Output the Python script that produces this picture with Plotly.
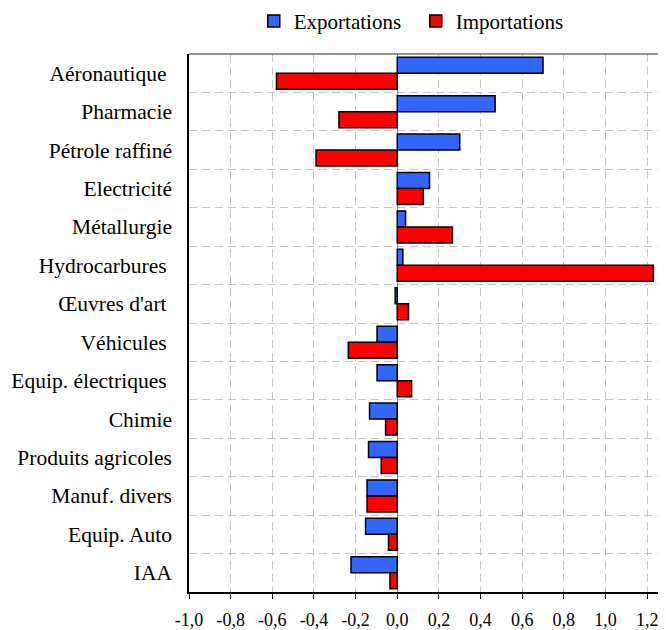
import plotly.graph_objects as go

categories = ["Aéronautique", "Pharmacie", "Pétrole raffiné", "Electricité", "Métallurgie",
              "Hydrocarbures", "Œuvres d'art", "Véhicules", "Equip. électriques", "Chimie",
              "Produits agricoles", "Manuf. divers", "Equip. Auto", "IAA"]
category_labels = ["Aéronautique\u00a0", "Pharmacie", "Pétrole raffiné", "Electricité", "Métallurgie",
                   "Hydrocarbures\u00a0", "Œuvres d'art\u00a0", "Véhicules\u00a0", "Equip. électriques\u00a0",
                   "Chimie", "Produits agricoles", "Manuf. divers", "Equip. Auto", "IAA"]
exportations = [0.70, 0.47, 0.30, 0.155, 0.04, 0.027, -0.01, -0.097, -0.097, -0.133,
                -0.138, -0.145, -0.152, -0.222]
importations = [-0.58, -0.28, -0.39, 0.125, 0.265, 1.23, 0.054, -0.235, 0.069, -0.056,
                -0.077, -0.145, -0.042, -0.035]
tick_vals = [-1.0, -0.8, -0.6, -0.4, -0.2, 0.0, 0.2, 0.4, 0.6, 0.8, 1.0, 1.2]
tick_text = ["-1,0", "-0,8", "-0,6", "-0,4", "-0,2", "0,0", "0,2", "0,4", "0,6", "0,8", "1,0", "1,2"]

font_family = "Liberation Serif, Times New Roman, Times, serif"

fig = go.Figure()
fig.add_trace(go.Bar(y=categories, x=exportations, orientation="h", name="Exportations",
                     marker=dict(color="#3366FF", line=dict(color="#000000", width=1.5))))
fig.add_trace(go.Bar(y=categories, x=importations, orientation="h", name="Importations",
                     marker=dict(color="#FF0000", line=dict(color="#000000", width=1.5))))

fig.update_layout(
    width=666, height=630,
    margin=dict(l=181, r=0, t=46, b=46, autoexpand=False),
    paper_bgcolor="white", plot_bgcolor="white",
    barmode="group", bargap=0.167, bargroupgap=0,
    font=dict(family=font_family, color="#000000"),
    legend=dict(orientation="h", x=0.369, xanchor="left", y=0.979, yanchor="middle",
                xref="container", yref="container",
                font=dict(size=21, family=font_family), itemwidth=30,
                entrywidth=117, entrywidthmode="pixels",
                traceorder="normal"),
    showlegend=True,
)

fig.update_xaxes(
    range=[-1.0, 1.329], tickvals=tick_vals, ticktext=tick_text, automargin=False,
    tickfont=dict(size=18, family=font_family),
    ticks="outside", ticklen=5, tickcolor="#000000", tickwidth=1,
    ticklabelstandoff=6,
    showline=True, linecolor="#000000", linewidth=1.5,
    showgrid=True, gridcolor="#c4c4c4", griddash="8px,5px", gridwidth=1,
    zeroline=True, zerolinecolor="#808080", zerolinewidth=1.2,
)
fig.update_yaxes(
    autorange="reversed", tickson="boundaries", automargin=False,
    tickvals=categories, ticktext=category_labels,
    tickfont=dict(size=21.5, family=font_family),
    ticks="", ticklabelstandoff=11,
    showline=True, linecolor="#000000", linewidth=1.5,
    showgrid=True, gridcolor="#c4c4c4", griddash="8px,5px", gridwidth=1,
)
fig.add_shape(type="line", xref="paper", yref="paper", x0=0, x1=1, y0=1, y1=1,
              line=dict(color="#707070", width=1.5))

fig.write_html("out.html")
